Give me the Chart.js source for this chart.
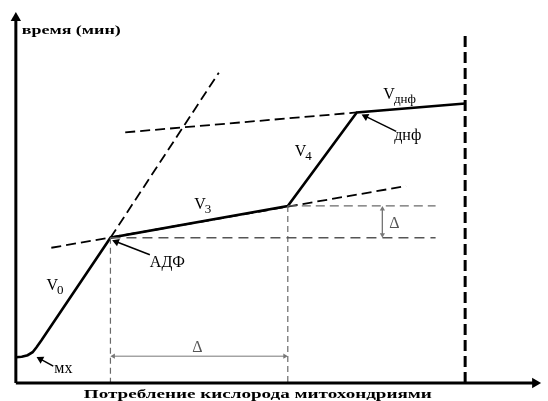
<!DOCTYPE html>
<html>
<head>
<meta charset="utf-8">
<script src="https://cdn.jsdelivr.net/npm/chart.js@4.4.1/dist/chart.umd.min.js"></script>
<style>
    html, body { margin: 0; padding: 0; background: #fff; }
    #wrap { width: 548px; height: 401px; position: relative; }
</style>
</head>
<body>
<div id="wrap"><canvas id="chart"></canvas></div>
<script>
'use strict'

// x: потребление кислорода, y: время (условные единицы)
const mxCurve = [[0, 2.6], [0.6, 2.65], [1.2, 2.8], [1.7, 3.1], [2.1, 3.6], [2.6, 4.3]];
const tracePoints = [[9.6, 14.6], [27.6, 17.8], [34.6, 27.2], [45.6, 28.1]];
const extV0 = [[9.6, 14.6], [20.6, 31.2]];
const extV3 = [[3.6, 13.6], [39.6, 19.8]];
const extDnf = [[11.1, 25.2], [34.6, 27.2]];
const endLine = [[45.6, 0], [45.6, 35.1]];
const levelLow = [[9.6, 14.6], [42.6, 14.6]];
const levelHigh = [[27.6, 17.8], [42.6, 17.8]];
const dropAdf = [[9.6, 14.6], [9.6, 0]];
const dropV4 = [[27.6, 17.8], [27.6, 0]];
const deltaX = [[9.9, 2.7], [27.3, 2.7]];
const deltaY = [[37.2, 17.5], [37.2, 14.9]];
const pointerAdf = [[13.6, 12.9], [10.2, 14.2]];
const pointerDnf = [[38.6, 25.3], [35.5, 26.8]];
const pointerMx = [[3.8, 1.7], [2.5, 2.4]];
const axisX = [[0, 0], [52.7, 0]];
const axisY = [[0, 0], [0, 36.7]];

const notes = [
    {text: 'V', sub: '0', x: 3.1, y: 9.4},
    {text: 'V', sub: '3', x: 18.1, y: 17.5},
    {text: 'V', sub: '4', x: 28.3, y: 22.8},
    {text: 'V', sub: 'днф', x: 37.3, y: 28.6},
    {text: 'днф', x: 38.4, y: 24.4},
    {text: 'АДФ', x: 13.6, y: 11.7},
    {text: 'мх', x: 3.9, y: 1.0},
    {text: 'Δ', x: 17.9, y: 3.1, color: '#555'},
    {text: 'Δ', x: 37.9, y: 15.6, color: '#555'}
];
const titles = [
    {text: 'время (мин)', x: 0.6, y: 35.1, w: 99},
    {text: 'Потребление кислорода митохондриями', x: 6.9, y: -1.5, w: 348}
];

const toXY = arr => arr.map(p => ({x: p[0], y: p[1]}));

function headAngle(ctx) {
    const data = ctx.dataset.data, i = ctx.dataIndex;
    const j = i === 0 ? 1 : i - 1;
    const sx = ctx.chart.scales.x, sy = ctx.chart.scales.y;
    const dx = sx.getPixelForValue(data[i].x) - sx.getPixelForValue(data[j].x);
    const dy = sy.getPixelForValue(data[i].y) - sy.getPixelForValue(data[j].y);
    return Math.atan2(dx, -dy) * 180 / Math.PI;
}

function seg(points, style) {
    return Object.assign({
        data: toXY(points),
        showLine: true,
        borderColor: '#000',
        backgroundColor: '#000',
        borderWidth: 2,
        pointRadius: 0,
        tension: 0,
        clip: false
    }, style);
}

const dashBlack = {borderWidth: 1.8, borderDash: [10, 5]};
const dashGrey = {borderColor: '#6a6a6a', borderWidth: 1.2, borderDash: [9, 5]};
const withHeads = (r, ends, color) => ({
    pointRadius: ends.map(e => e ? r : 0),
    pointStyle: 'triangle',
    rotation: headAngle,
    pointBackgroundColor: color,
    pointBorderColor: color,
    pointBorderWidth: 0
});

const datasets = [
    seg(axisX, Object.assign({borderWidth: 3}, withHeads(6, [false, true], '#000'))),
    seg(axisY, Object.assign({borderWidth: 3}, withHeads(6, [false, true], '#000'))),
    seg(levelLow, {borderColor: '#555', borderWidth: 1.4, borderDash: [10, 6]}),
    seg(levelHigh, dashGrey),
    seg(dropAdf, {borderColor: '#6a6a6a', borderWidth: 1.2, borderDash: [6, 4]}),
    seg(dropV4, {borderColor: '#6a6a6a', borderWidth: 1.2, borderDash: [6, 4]}),
    seg(deltaX, Object.assign({borderColor: '#777', borderWidth: 1}, withHeads(3, [true, true], '#777'))),
    seg(deltaY, Object.assign({borderColor: '#777', borderWidth: 1}, withHeads(3, [true, true], '#777'))),
    seg(extV0, dashBlack),
    seg(extV3, dashBlack),
    seg(extDnf, dashBlack),
    seg(endLine, {borderWidth: 3, borderDash: [11, 5]}),
    seg(mxCurve.concat(tracePoints), {borderWidth: 2.6}),
    seg(pointerAdf, Object.assign({borderWidth: 1.5}, withHeads(4.5, [false, true], '#000'))),
    seg(pointerDnf, Object.assign({borderWidth: 1.5}, withHeads(4.5, [false, true], '#000'))),
    seg(pointerMx, Object.assign({borderWidth: 1.5}, withHeads(4.5, [false, true], '#000')))
];

const notesPlugin = {
    id: 'notes',
    afterDatasetsDraw(chart) {
        const {ctx, scales: {x, y}} = chart;
        ctx.save();
        ctx.textBaseline = 'alphabetic';
        ctx.textAlign = 'left';
        notes.forEach(n => {
            const px = x.getPixelForValue(n.x), py = y.getPixelForValue(n.y);
            ctx.fillStyle = n.color || '#000';
            ctx.font = '16px "Liberation Serif"';
            ctx.fillText(n.text, px, py);
            if (n.sub) {
                const w = ctx.measureText(n.text).width;
                ctx.font = '13px "Liberation Serif"';
                ctx.fillText(n.sub, px + w - 1, py + 4);
            }
        });
        ctx.fillStyle = '#000';
        ctx.font = 'bold 13px "Liberation Serif"';
        titles.forEach(t => {
            const px = x.getPixelForValue(t.x), py = y.getPixelForValue(t.y);
            const k = t.w / ctx.measureText(t.text).width;
            ctx.save();
            ctx.translate(px, py);
            ctx.scale(k, 1);
            ctx.fillText(t.text, 0, 0);
            ctx.restore();
        });
        ctx.restore();
    }
};

new Chart(document.getElementById('chart'), {
    type: 'scatter',
    data: {datasets},
    options: {
        responsive: true,
        maintainAspectRatio: false,
        animation: false,
        events: [],
        layout: {padding: {left: 4, top: 4, right: 0, bottom: 10}},
        scales: {
            x: {display: false, min: -1, max: 53.4},
            y: {display: false, min: -0.8, max: 37.9}
        },
        plugins: {legend: {display: false}, tooltip: {enabled: false}}
    },
    plugins: [notesPlugin]
});
</script>
</body>
</html>
